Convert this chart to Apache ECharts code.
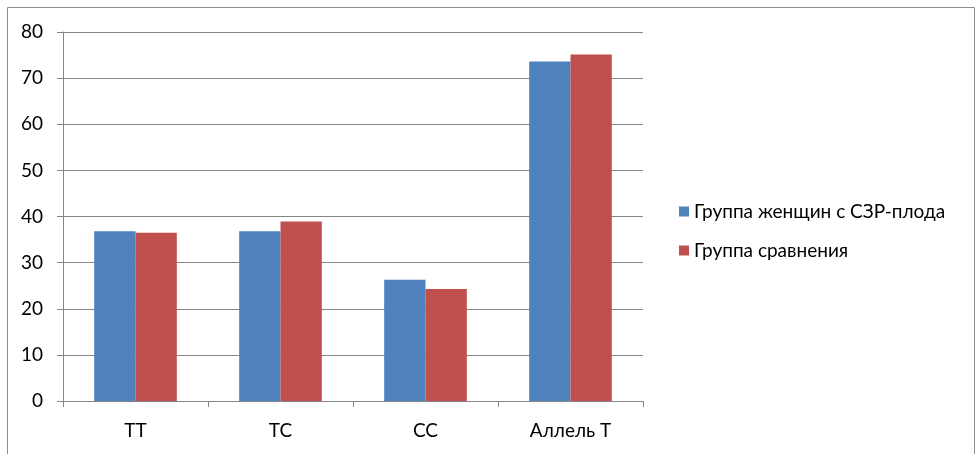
<!DOCTYPE html>
<html>
<head>
<meta charset="utf-8">
<script src="https://cdn.jsdelivr.net/npm/echarts@6/dist/echarts.min.js"></script>
<style>
  html, body { margin: 0; padding: 0; background: #ffffff; }
  #chart { width: 976px; height: 454px; }
</style>
</head>
<body>
<div id="chart"></div>
<script>
// Genotype categories and values per group
const categories = ['TT', 'TC', 'CC', 'Аллель T'];
const seriesNames = ['Группа женщин с СЗР-плода', 'Группа сравнения'];
const groupFgr = [36.8, 36.8, 26.3, 73.6];
const groupControl = [36.5, 38.9, 24.3, 75.1];
const yTicks = { min: 0, max: 80, interval: 10 };

const font = 'Lato, "Open Sans", sans-serif';
const axisGray = '#868686';

const chart = echarts.init(document.getElementById('chart'), null, { renderer: 'canvas' });

chart.setOption({
  animation: false,
  backgroundColor: '#ffffff',
  textStyle: { fontFamily: font },
  graphic: [{
    type: 'rect',
    shape: { x: 7.5, y: 7.5, width: 967, height: 470 },
    style: { fill: 'none', stroke: '#8c8c8c', lineWidth: 1 },
    silent: true
  }],
  grid: { left: 63, right: 333, top: 32, bottom: 53, containLabel: false },
  legend: {
    orient: 'vertical',
    left: 674,
    top: 197,
    itemWidth: 10,
    itemHeight: 10,
    itemGap: 20,
    icon: 'rect',
    textStyle: { fontFamily: font, fontSize: 19, color: '#000', padding: [0, 0, 0, 0] },
    data: seriesNames
  },
  xAxis: {
    type: 'category',
    data: categories,
    axisLine: { lineStyle: { color: axisGray, width: 1 } },
    axisTick: { show: true, length: 6, lineStyle: { color: axisGray } },
    axisLabel: { color: '#000', fontFamily: font, fontSize: 19, margin: 20 }
  },
  yAxis: {
    type: 'value',
    min: yTicks.min,
    max: yTicks.max,
    interval: yTicks.interval,
    axisLine: { show: true, lineStyle: { color: axisGray, width: 1 } },
    axisTick: { show: true, length: 6, lineStyle: { color: axisGray } },
    axisLabel: { color: '#000', fontFamily: font, fontSize: 19, margin: 20 },
    splitLine: { show: true, lineStyle: { color: axisGray, width: 1 } }
  },
  series: [
    {
      name: seriesNames[0],
      type: 'bar',
      data: groupFgr,
      barGap: '0%',
      barCategoryGap: '43%',
      itemStyle: { color: '#4f81bd' }
    },
    {
      name: seriesNames[1],
      type: 'bar',
      data: groupControl,
      barGap: '0%',
      barCategoryGap: '43%',
      itemStyle: { color: '#c0504d' }
    }
  ]
});
</script>
</body>
</html>
